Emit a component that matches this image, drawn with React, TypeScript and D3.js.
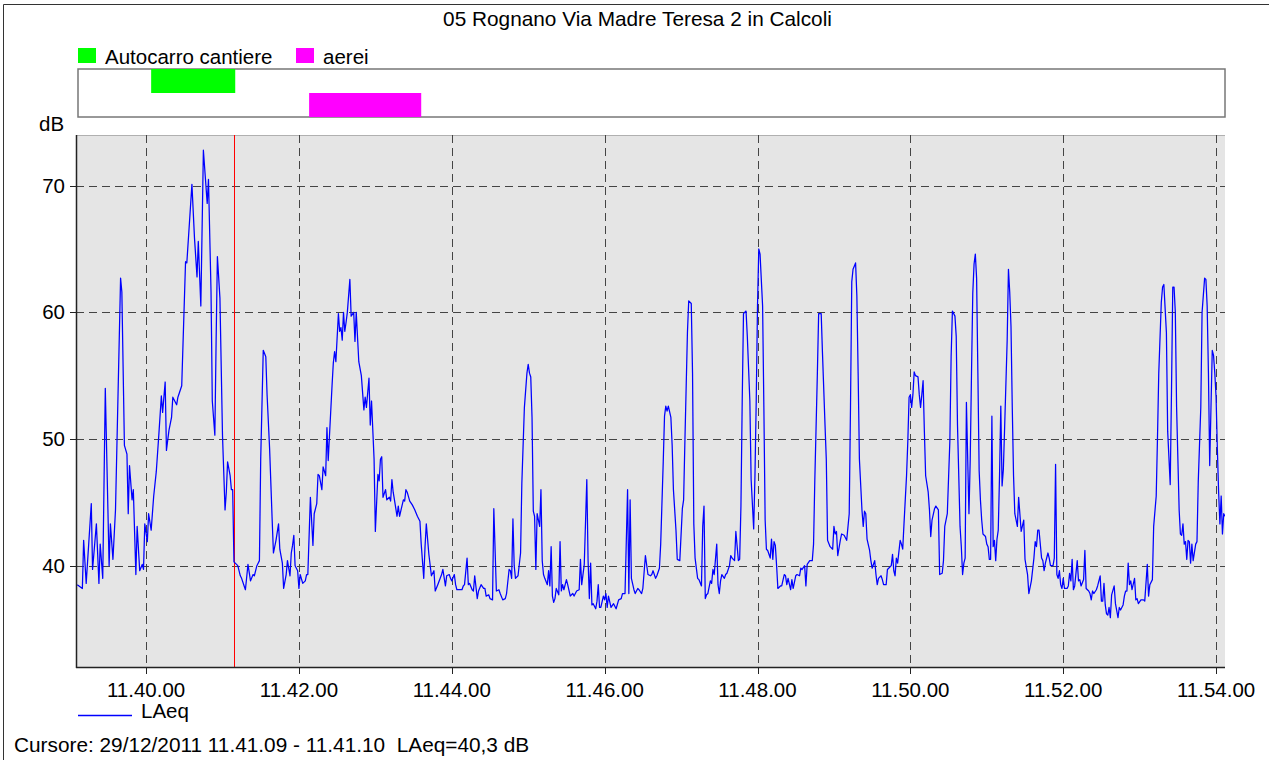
import React from "react";
import * as d3 from "d3";

const TITLE = "05 Rognano Via Madre Teresa 2 in Calcoli";
const Y_LABEL = "dB";
const SERIES_NAME = "LAeq";
const CURSOR_TEXT = "Cursore: 29/12/2011 11.41.09 - 11.41.10  LAeq=40,3 dB";
const CURSOR_TIME = 129; // seconds after 11.39.00

// seconds after 11.39.00
const TIMES = [
  6, 10, 11, 13, 17, 18, 21, 23, 24, 26, 28, 31, 32, 34, 36, 40, 41, 43, 45, 46, 47, 49, 50, 52, 53, 55, 57, 58, 59, 61, 62, 64, 66, 68, 70, 72, 73, 75, 76, 78, 80, 81, 84, 85, 88, 91, 92, 94, 96, 98, 100, 101, 103, 105, 108, 109, 111, 112, 114, 115, 116, 118, 120, 122,
  123, 124, 126, 127, 128, 129, 131, 132, 134, 135, 137, 138, 140, 142, 144, 145, 147, 149, 150, 152, 154, 155, 157, 159, 160, 162, 164, 165, 167, 168, 170, 171, 173, 174, 175, 176, 177, 179, 180, 181, 183, 185, 186, 187, 189, 191, 192, 194, 195, 196, 198, 199, 201, 202, 203, 204, 206, 207, 208, 209, 211, 212, 213, 214, 215, 216, 217, 218, 220, 221, 223, 224, 225, 227, 229, 231, 232, 233, 235, 236, 237, 239, 240, 242, 243,
  244, 245, 246, 248, 249, 251, 252, 253, 254, 255, 257, 258, 259, 262, 263, 264, 265, 267, 269, 271, 273, 275, 276, 278, 279, 280, 282, 284, 286, 287, 289, 292, 293, 295, 296, 298, 299, 300, 302, 303, 304, 306, 308, 309, 310, 312, 313, 314, 316, 317, 318, 320, 321, 323, 325, 326, 327, 329, 330, 332, 333, 335, 337, 338, 340, 342, 343, 345, 346, 347, 348, 349, 350, 352, 354, 355, 357, 359, 360, 361,
  362, 363, 364, 365, 366, 367, 369, 370, 371, 372, 373, 375, 376, 377, 378, 379, 380, 381, 382, 384, 385, 386, 387, 388, 390, 391, 393, 395, 396, 398, 400, 401, 402, 404, 406, 407, 408, 409, 410, 411, 413, 414, 415, 416, 417, 419, 420, 421, 422, 423, 425, 427, 429, 431, 433, 434, 436, 438, 439, 440, 441, 443, 444, 446, 447, 449, 450, 452, 454, 456, 457, 458, 460, 461, 463, 464, 466, 467, 468, 469, 470, 472,
  473, 474, 476, 477, 479, 481, 482, 483, 485, 486, 488, 489, 490, 491, 493, 494, 496, 497, 498, 499, 500, 501, 503, 504, 505, 506, 508, 509, 510, 511, 512, 514, 515, 516, 518, 519, 520, 522, 523, 525, 526, 527, 528, 529, 531, 532, 534, 535, 537, 538, 539, 540, 541, 542, 544, 545, 546, 547, 548, 550, 551, 552, 553, 554, 555, 556, 558, 559, 561, 562, 563, 564, 566, 567, 568, 570, 571, 573, 574, 575, 577, 578, 579, 581, 583, 584, 585, 587, 588, 590, 591, 593,
  594, 595, 597, 599, 600, 601, 602, 603, 605, 606, 608, 610, 612, 613, 614, 615, 617, 618, 619, 620, 622, 623, 624, 625, 626, 628, 629, 630, 632, 633, 634, 635, 637, 638, 639, 641, 642, 643, 645, 646, 647, 648, 649, 650, 652, 653, 654, 655, 657, 658, 659, 660, 661, 662, 663, 664, 666, 667, 668, 669, 670, 671, 672, 674, 675, 676, 677, 679, 680, 682, 683, 685, 686, 687, 689, 691, 692, 693, 695, 696, 697, 699, 700, 701, 702, 703, 704, 706, 707, 708, 709, 710, 711, 712, 713, 714, 715,
  716, 717, 719, 720, 721, 722, 723, 724, 725, 726, 727, 728, 729, 730, 731, 732, 733, 734, 736, 737, 738, 739, 740, 741, 742, 744, 745, 747, 749, 750, 752, 753, 755, 757, 758, 759, 760, 761, 763, 764, 765, 766, 768, 769, 770, 772, 773, 774, 775, 776, 777, 778, 779, 780, 781, 783, 784, 785, 786, 787, 788, 789, 791, 792, 793, 794, 796, 797, 798, 800, 801, 802, 803, 804, 806, 807, 809, 810, 811, 812, 813, 814, 815, 816, 817, 818, 820, 821, 823, 824, 825, 827, 828, 829, 830, 831, 832,
  833, 834, 836, 837, 838, 839, 841, 843, 844, 846, 847, 848, 850, 851, 853, 854, 855, 857, 858, 859, 861, 862, 864, 865, 866, 867, 868, 869, 871, 872, 873, 874, 875, 876, 877, 878, 879, 880, 881, 882, 884, 885, 886, 888, 889, 891, 892, 893, 894, 895, 896, 897, 898, 899, 900, 901, 902, 903, 904, 905, 906, 907,
];

const LAEQ = [
  38.5, 38.2, 42.0, 38.6, 44.9, 39.7, 43.3, 38.6, 41.7, 39.0, 54.0, 40.0, 43.3, 40.5, 44.4, 62.7, 61.6, 49.5, 48.8, 44.1, 47.9, 45.2, 46.0, 39.3, 43.1, 39.6, 40.1, 39.7, 43.3, 41.9, 44.1, 42.8, 45.5, 47.4, 50.3, 53.4, 52.1, 54.5, 49.1, 50.7, 51.7, 53.3, 52.7, 53.3, 54.2, 64.0, 63.9, 67.0, 70.1, 65.9, 62.8, 65.6, 60.5, 72.8, 68.6, 70.5, 61.6, 53.0, 50.3, 57.8, 64.4, 61.1, 50.3, 44.4,
  45.8, 48.2, 47.1, 46.0, 46.0, 40.3, 40.1, 40.0, 39.2, 39.0, 38.4, 38.1, 40.1, 38.8, 39.3, 39.2, 40.0, 40.4, 48.4, 57.0, 56.5, 53.5, 49.2, 43.6, 41.0, 42.0, 43.3, 41.3, 40.2, 38.2, 39.3, 40.4, 39.2, 41.0, 41.6, 42.4, 40.0, 39.6, 38.2, 39.3, 38.6, 38.8, 39.3, 39.3, 45.4, 41.6, 44.1, 44.9, 47.2, 47.1, 46.0, 47.8, 47.1, 50.9, 48.3, 50.3, 54.2, 56.0, 56.9, 56.1, 59.9, 58.5, 58.8, 57.8, 60.0, 58.5, 59.2, 60.0, 62.6, 59.7, 60.0, 57.7, 60.0, 56.1, 55.0, 52.3, 53.3, 52.5, 54.8, 51.1, 53.0, 48.4, 42.7, 47.2, 46.7,
  48.4, 48.6, 45.4, 46.0, 45.2, 45.4, 45.1, 46.8, 45.8, 45.2, 43.9, 44.7, 43.9, 45.2, 45.1, 46.0, 45.8, 45.1, 44.8, 44.4, 43.9, 43.5, 41.7, 39.0, 41.5, 43.3, 40.9, 39.2, 39.6, 38.0, 38.5, 39.3, 39.7, 38.4, 39.2, 39.3, 39.0, 38.8, 39.3, 38.5, 38.1, 38.1, 38.1, 38.4, 38.5, 40.6, 38.5, 38.6, 38.1, 38.0, 39.2, 37.4, 38.0, 38.5, 38.2, 38.2, 37.6, 37.7, 37.4, 37.3, 44.5, 38.0, 38.1, 37.8, 37.3, 37.4, 37.8, 39.7, 39.6, 39.0, 43.7, 40.0, 39.0, 39.2, 41.0, 46.5, 52.5, 55.2, 55.9, 55.2,
  54.9, 51.7, 44.3, 43.9, 39.7, 44.1, 43.1, 46.0, 40.4, 39.3, 39.0, 38.5, 39.6, 38.4, 41.5, 37.6, 37.1, 37.4, 38.2, 37.7, 41.9, 38.0, 38.5, 38.1, 38.9, 38.5, 37.6, 37.8, 37.6, 38.0, 38.1, 40.5, 38.5, 40.1, 46.8, 40.4, 37.4, 40.2, 36.9, 37.0, 36.6, 37.2, 38.5, 36.7, 36.7, 37.6, 37.3, 37.8, 36.7, 37.6, 36.7, 37.0, 36.6, 37.3, 37.4, 37.8, 37.8, 46.0, 37.8, 45.2, 39.0, 38.1, 37.8, 38.2, 38.1, 37.8, 38.2, 40.8, 39.3, 39.2, 39.3, 39.6, 39.0, 39.2, 39.8, 41.7, 48.2, 51.8, 52.6, 52.2, 52.6, 51.7,
  49.5, 46.0, 42.8, 40.5, 40.4, 44.5, 45.2, 49.8, 58.4, 60.9, 60.7, 55.2, 43.3, 40.6, 39.0, 38.9, 38.4, 43.1, 44.7, 37.4, 37.7, 37.8, 38.8, 38.6, 39.7, 39.3, 41.7, 38.5, 37.8, 38.8, 39.3, 39.0, 39.3, 39.4, 40.0, 40.8, 40.6, 40.4, 42.7, 40.4, 40.5, 44.7, 53.0, 59.9, 60.1, 58.1, 53.0, 46.8, 42.9, 47.1, 53.0, 60.5, 65.0, 64.6, 60.5, 52.5, 43.6, 41.3, 41.2, 40.6, 42.1, 40.5, 41.9, 41.6, 40.0, 38.2, 38.4, 38.4, 39.3, 39.2, 38.5, 39.0, 38.1, 38.9, 38.2, 39.2, 39.3, 39.2, 39.8, 39.7, 40.0, 38.4, 40.1, 40.4, 40.4, 41.7, 46.8, 55.2, 59.9, 59.9, 56.8, 51.1,
  48.4, 42.0, 41.5, 41.3, 43.1, 42.5, 42.7, 40.8, 42.0, 42.5, 42.4, 42.0, 44.1, 52.5, 62.4, 63.4, 63.9, 61.3, 55.2, 48.4, 44.4, 43.1, 44.3, 44.1, 42.1, 41.2, 40.4, 39.8, 40.4, 39.3, 38.5, 39.0, 39.2, 38.9, 38.5, 38.5, 39.7, 39.8, 40.0, 40.9, 39.6, 39.2, 40.6, 40.2, 42.0, 41.7, 41.3, 43.3, 47.1, 49.8, 53.3, 53.5, 52.5, 53.5, 55.3, 55.0, 54.9, 53.5, 52.5, 53.5, 54.6, 50.6, 47.1, 45.8, 44.4, 42.3, 43.6, 44.5, 44.7, 44.4, 39.3, 39.4, 40.4, 43.1, 44.1, 49.8, 56.5, 60.1, 59.7, 58.1, 51.1, 43.1, 41.5, 39.3, 40.2, 40.6, 52.9, 44.1, 48.4, 55.2, 61.5, 63.8, 64.6, 62.7, 55.2, 47.5, 45.2,
  43.6, 42.5, 42.3, 41.7, 41.5, 40.5, 40.5, 51.8, 41.5, 42.0, 40.4, 42.1, 42.8, 47.1, 52.6, 46.3, 47.6, 50.9, 57.8, 63.4, 61.6, 58.9, 52.5, 47.1, 44.1, 43.1, 45.4, 42.7, 43.6, 40.5, 39.3, 37.8, 38.8, 40.6, 41.9, 41.5, 42.8, 42.8, 40.6, 40.4, 39.6, 40.2, 41.0, 40.6, 40.0, 40.0, 40.6, 48.0, 39.3, 39.0, 39.6, 38.5, 38.2, 39.0, 38.2, 38.2, 38.4, 39.4, 38.8, 40.5, 38.1, 38.4, 40.4, 38.8, 38.9, 38.4, 38.9, 41.2, 38.2, 38.0, 37.8, 37.3, 38.0, 37.8, 38.1, 38.4, 39.2, 37.2, 37.2, 38.6, 36.9, 36.2, 36.1, 36.7, 35.9, 37.7, 38.4, 37.0, 35.9, 36.7, 36.5, 36.9, 37.6, 38.0, 38.0, 40.2, 38.5,
  38.8, 38.1, 39.0, 37.3, 37.4, 37.0, 37.3, 37.3, 37.2, 40.1, 37.6, 38.5, 38.9, 43.1, 45.5, 50.1, 55.2, 60.8, 62.0, 62.2, 58.4, 50.6, 46.4, 53.8, 62.0, 62.0, 60.0, 52.5, 44.4, 42.5, 42.4, 43.3, 41.7, 41.9, 40.5, 42.0, 41.9, 40.2, 41.7, 40.4, 41.7, 41.9, 46.6, 52.5, 60.0, 62.7, 62.6, 60.5, 55.2, 47.9, 52.5, 57.0, 56.6, 55.2, 53.3, 49.2, 45.8, 43.3, 45.5, 42.5, 44.1, 43.9,
];

const X_TICKS = [60, 180, 300, 420, 540, 660, 780, 900];
const X_TICK_LABELS = ["11.40.00", "11.42.00", "11.44.00", "11.46.00", "11.48.00", "11.50.00", "11.52.00", "11.54.00"];
const Y_TICKS = [40, 50, 60, 70];

const EVENT_NAMES = ["Autocarro cantiere", "aerei"];
const EVENT_COLORS = ["#00ff00", "#ff00ff"];
const EVENT_START = [64, 188];
const EVENT_END = [130, 276];

const FONT = "'Liberation Sans', Arial, Helvetica, sans-serif";

export default function App() {
  const W = 1269;
  const H = 760;
  const L = 76, R = 1225, T = 135, B = 667;
  const x = d3.scaleLinear().domain([5, 907]).range([L, R]);
  const y = d3.scaleLinear().domain([32, 74]).range([B, T]);
  const lane = d3.scaleBand<string>().domain(EVENT_NAMES).range([69, 117]);
  const data = TIMES.map((t, i) => ({ t, v: LAEQ[i] }));
  const line = d3
    .line<{ t: number; v: number }>()
    .x((d) => x(d.t))
    .y((d) => y(d.v));
  const fs = 20.5;
  const fsBig = 20.8;
  const legendX = [78, 296];

  return (
    <svg
      width={W}
      height={H}
      style={{ position: "absolute", left: 0, top: 0, background: "#fff" }}
      fontFamily={FONT}
    >
      <rect x={0} y={0} width={W} height={H} fill="#fff" />
      {/* outer frame */}
      <line x1={3.5} y1={4.5} x2={W} y2={4.5} stroke="#333" />
      <line x1={3.5} y1={4.5} x2={3.5} y2={H} stroke="#333" />

      <text x={637.5} y={26} fontSize={fsBig} textAnchor="middle" fill="#000">
        {TITLE}
      </text>

      {/* event legend */}
      {EVENT_NAMES.map((n, i) => (
        <g key={n}>
          <rect x={legendX[i]} y={48} width={18} height={15} fill={EVENT_COLORS[i]} />
          <text x={legendX[i] + 27} y={64} fontSize={fs} fill="#000">
            {n}
          </text>
        </g>
      ))}

      {/* event strip */}
      <rect x={L + 2} y={69} width={R - L - 2} height={48} fill="#fff" stroke="#777" strokeWidth={1.5} />
      {EVENT_NAMES.map((n, i) => (
        <rect
          key={n}
          x={x(EVENT_START[i])}
          y={lane(n)}
          width={x(EVENT_END[i]) - x(EVENT_START[i])}
          height={lane.bandwidth()}
          fill={EVENT_COLORS[i]}
        />
      ))}

      <text x={39} y={131} fontSize={fs} fill="#000">
        {Y_LABEL}
      </text>

      {/* plot area */}
      <rect x={L} y={T} width={R - L} height={B - T} fill="#e5e5e5" />
      <line x1={L} y1={T + 0.5} x2={R} y2={T + 0.5} stroke="#b0b0b0" />

      {/* grid */}
      {Y_TICKS.map((v) => (
        <line key={"gy" + v} x1={L} x2={R} y1={Math.round(y(v)) + 0.5} y2={Math.round(y(v)) + 0.5} stroke="#444" strokeDasharray="8,5" />
      ))}
      {X_TICKS.map((t) => (
        <line key={"gx" + t} x1={Math.round(x(t)) + 0.5} x2={Math.round(x(t)) + 0.5} y1={T} y2={B} stroke="#444" strokeDasharray="8,5" />
      ))}

      <defs>
        <clipPath id="plotclip">
          <rect x={L} y={T} width={R - L} height={B - T} />
        </clipPath>
      </defs>

      {/* cursor */}
      <line x1={Math.round(x(CURSOR_TIME)) + 0.5} x2={Math.round(x(CURSOR_TIME)) + 0.5} y1={T} y2={B} stroke="#ff0000" strokeWidth={1} />

      <path d={line(data) || ""} fill="none" stroke="#0000ff" strokeWidth={1.25} strokeLinejoin="round" clipPath="url(#plotclip)" />

      {/* axes */}
      <line x1={L + 0.5} y1={T} x2={L + 0.5} y2={B + 1} stroke="#222" strokeWidth={1.5} />
      <line x1={L} y1={B + 0.5} x2={R} y2={B + 0.5} stroke="#222" strokeWidth={1.5} />

      {Y_TICKS.map((v) => (
        <g key={"ty" + v}>
          <line x1={L - 6} x2={L} y1={Math.round(y(v)) + 0.5} y2={Math.round(y(v)) + 0.5} stroke="#222" />
          <text x={65} y={y(v) + 7} fontSize={fs} textAnchor="end" fill="#000">
            {v}
          </text>
        </g>
      ))}
      {X_TICKS.map((t, i) => (
        <g key={"tx" + t}>
          <line x1={Math.round(x(t)) + 0.5} x2={Math.round(x(t)) + 0.5} y1={B} y2={B + 7} stroke="#222" />
          <text x={x(t)} y={697} fontSize={fs} textAnchor="middle" fill="#000">
            {X_TICK_LABELS[i]}
          </text>
        </g>
      ))}

      {/* series legend */}
      <line x1={78} x2={132} y1={715.5} y2={715.5} stroke="#0000ff" strokeWidth={1.3} />
      <text x={141} y={718} fontSize={fs} fill="#000">
        {SERIES_NAME}
      </text>

      <text x={14} y={752} fontSize={fsBig} fill="#000" style={{ whiteSpace: "pre" }}>
        {CURSOR_TEXT}
      </text>
    </svg>
  );
}
